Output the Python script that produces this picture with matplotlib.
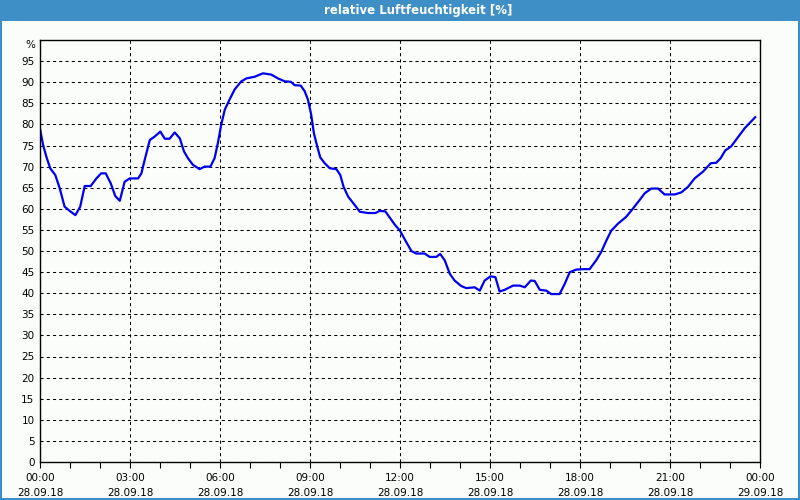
import matplotlib
matplotlib.use('Agg')
from matplotlib import pyplot as plt
from matplotlib.patches import Rectangle

# relative Luftfeuchtigkeit am 28.09.18, Stunden seit 00:00
stunden = [0.0, 0.1, 0.21, 0.34, 0.51, 0.66, 0.82, 0.99, 1.18, 1.34, 1.49, 1.69, 1.88,
           2.04, 2.19, 2.36, 2.51, 2.66, 2.82, 2.99, 3.27, 3.38, 3.49, 3.66, 3.82, 4.01,
           4.16, 4.32, 4.49, 4.66, 4.8, 4.93, 5.1, 5.32, 5.49, 5.68, 5.82, 5.93, 6.04,
           6.16, 6.32, 6.49, 6.71, 6.88, 7.16, 7.43, 7.71, 7.93, 8.16, 8.36, 8.49, 8.69,
           8.82, 8.93, 9.04, 9.13, 9.24, 9.34, 9.49, 9.66, 9.88, 10.01, 10.12, 10.27,
           10.49, 10.66, 10.93, 11.18, 11.32, 11.51, 11.66, 11.82, 12.0, 12.21, 12.38,
           12.54, 12.82, 12.99, 13.21, 13.34, 13.49, 13.66, 13.82, 14.04, 14.21, 14.49,
           14.66, 14.82, 15.02, 15.18, 15.32, 15.49, 15.77, 15.99, 16.16, 16.36, 16.49,
           16.66, 16.88, 17.04, 17.32, 17.49, 17.66, 17.88, 18.16, 18.32, 18.54, 18.71,
           18.88, 19.04, 19.27, 19.54, 19.77, 19.99, 20.16, 20.38, 20.6, 20.82, 21.16,
           21.38, 21.6, 21.82, 22.1, 22.36, 22.54, 22.69, 22.84, 23.04, 23.27, 23.49, 23.84]
feuchte = [79.0, 75.2, 72.4, 69.6, 68.0, 64.8, 60.5, 59.5, 58.5, 60.5, 65.4, 65.4, 67.2,
           68.4, 68.4, 66.0, 63.0, 61.9, 66.4, 67.2, 67.2, 68.4, 71.6, 76.3, 77.1, 78.3,
           76.6, 76.6, 78.1, 76.7, 73.6, 72.0, 70.4, 69.4, 70.0, 70.0, 72.0, 75.6, 79.9,
           83.5, 85.9, 88.3, 90.2, 90.9, 91.3, 92.1, 91.8, 90.9, 90.2, 90.1, 89.3, 89.2,
           87.9, 85.9, 82.3, 77.9, 74.8, 72.2, 70.8, 69.6, 69.4, 68.0, 65.2, 62.9,
           60.9, 59.3, 59.0, 59.0, 59.5, 59.4, 57.9, 56.3, 54.8, 52.1, 50.0,
           49.4, 49.4, 48.6, 48.6, 49.3, 47.8, 44.6, 43.0, 41.7, 41.2, 41.4,
           40.6, 43.0, 44.0, 43.8, 40.4, 40.8, 41.8, 41.8, 41.4, 43.0, 42.9,
           40.8, 40.6, 39.8, 39.8, 42.2, 45.0, 45.6, 45.7, 45.7, 47.8, 49.8,
           52.5, 54.8, 56.5, 58.1, 60.1, 62.1, 63.7, 64.8, 64.8, 63.4, 63.4,
           63.9, 65.2, 67.2, 68.8, 70.8, 70.9, 72.0, 73.8, 74.8, 77.0, 79.1, 81.7]

x_ticks = [0, 3, 6, 9, 12, 15, 18, 21, 24]
x_labels = ['00:00\n28.09.18', '03:00\n28.09.18', '06:00\n28.09.18', '09:00\n28.09.18',
            '12:00\n28.09.18', '15:00\n28.09.18', '18:00\n28.09.18', '21:00\n28.09.18',
            '00:00\n29.09.18']
y_ticks = list(range(0, 100, 5))
y_labels = [str(v) for v in y_ticks]

hintergrund = '#fbfdfb'
blau_titel = '#3d8fc6'

fig = plt.figure(figsize=(8, 5), dpi=100, facecolor=hintergrund)

# Titelleiste oben und Rahmen
fig.patches.append(Rectangle((0, 1 - 21 / 500), 1, 21 / 500, transform=fig.transFigure,
                             facecolor=blau_titel, edgecolor='none', zorder=0))
fig.patches.append(Rectangle((0.001, 0.002), 0.998, 0.997, transform=fig.transFigure,
                             facecolor='none', edgecolor=blau_titel, linewidth=1.5, zorder=1))
fig.text(0.523, 1 - 10.5 / 500, 'relative Luftfeuchtigkeit [%]', color='white',
         ha='center', va='center', fontsize=8.5, fontweight='bold')

ax = fig.add_axes([40 / 800, 1 - 462 / 500, 720 / 800, 422 / 500])
ax.set_facecolor(hintergrund)
ax.plot(stunden, feuchte, color='#0000ee', linewidth=1.6)

ax.set_xlim(0, 24)
ax.set_ylim(0, 100)
ax.set_xticks(x_ticks)
ax.set_xticklabels(x_labels, fontsize=7.5, linespacing=1.6)
ax.set_xticks(range(0, 25), minor=True)
ax.set_yticks(y_ticks)
ax.set_yticklabels(y_labels, fontsize=7.5)
# Einheit oben links
ax.text(-0.006, 98.7, '%', transform=ax.get_yaxis_transform(), ha='right', va='center',
        fontsize=7.5)

ax.tick_params(axis='x', which='both', length=4, width=0.8, pad=4, direction='out')
ax.tick_params(axis='y', length=0, pad=4)

ax.grid(True, which='major', color='black', linestyle=(0, (3, 3)), linewidth=0.75)
for s in ax.spines.values():
    s.set_linewidth(1.0)
    s.set_color('black')

plt.savefig('out.png', dpi=100, facecolor=hintergrund)
